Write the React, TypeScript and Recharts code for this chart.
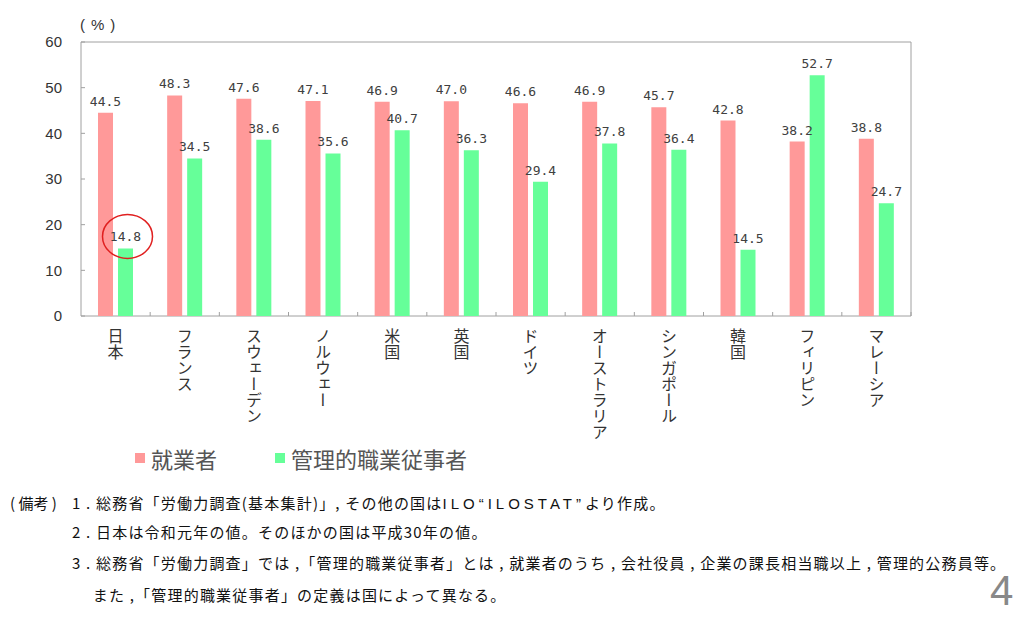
import { Bar, BarChart, LabelList, ReferenceArea, XAxis, YAxis } from 'recharts';

const countries = ['日本', 'フランス', 'スウェーデン', 'ノルウェー', '米国', '英国', 'ドイツ', 'オーストラリア', 'シンガポール', '韓国', 'フィリピン', 'マレーシア'];
const employed = [44.5, 48.3, 47.6, 47.1, 46.9, 47.0, 46.6, 46.9, 45.7, 42.8, 38.2, 38.8];
const managers = [14.8, 34.5, 38.6, 35.6, 40.7, 36.3, 29.4, 37.8, 36.4, 14.5, 52.7, 24.7];
const yTicks = [0, 10, 20, 30, 40, 50, 60];
const seriesNames = ['就業者', '管理的職業従事者'];
const seriesColors = ['#ff9999', '#66ff99'];
const SOURCE = 'ILO“ILOSTAT”';
const notes = [
  '1 . 総務省「労働力調査(基本集計)」, その他の国はILO“ILOSTAT”より作成。',
  '2 . 日本は令和元年の値。そのほかの国は平成30年の値。',
  '3 . 総務省「労働力調査」では ,「管理的職業従事者」とは , 就業者のうち , 会社役員 , 企業の課長相当職以上 , 管理的公務員等。',
  '　 また ,「管理的職業従事者」の定義は国によって異なる。',
];

const data = countries.map((name, i) => ({ name, employed: employed[i], managers: managers[i] }));

const CHART_W = 1024;
const CHART_H = 470;
const Y_AXIS_W = 81;
const X_AXIS_H = 154;
const MARGIN = { top: 42, right: 113, left: 0, bottom: 0 };
const PLOT_W = CHART_W - Y_AXIS_W - MARGIN.left - MARGIN.right;
const STEP = PLOT_W / countries.length;
const TICK_MARGIN_Y = 19;
const TICK_MARGIN_X = 12;
const frameColor = '#a0a0a0';
const labelFont = '"DejaVu Sans Mono", monospace';
const jpFont = '"Noto Sans CJK JP", sans-serif';
const latinFont = '"Liberation Sans", Arial, sans-serif';

function YTick(props: any) {
  const { x, y, payload } = props;
  const axisX = x + TICK_MARGIN_Y;
  return (
    <g>
      <line x1={axisX} x2={axisX + 4} y1={y} y2={y} stroke={frameColor} />
      <text x={x} y={y} dy="0.355em" textAnchor="end" fill="#333" fontSize={15} fontFamily={latinFont}>
        {payload.value}
      </text>
    </g>
  );
}

function CountryTick(props: any) {
  const { x, y, payload } = props;
  const axisY = y - TICK_MARGIN_X;
  return (
    <g>
      <line x1={x + STEP / 2} x2={x + STEP / 2} y1={axisY} y2={axisY - 4} stroke={frameColor} />
      <text x={x} y={y} fill="#333" fontSize={16} fontFamily={jpFont} style={{ writingMode: 'vertical-rl' }}>
        {payload.value}
      </text>
    </g>
  );
}

function ManagerLabel(props: any) {
  const { x, y, width, value, index } = props;
  const cx = x + width / 2;
  const ty = y - 7;
  return (
    <g>
      <text x={cx} y={ty} textAnchor="middle" fill="#404040" fontSize={13} fontFamily={labelFont}>
        {Number(value).toFixed(1)}
      </text>
      {index === 0 && <ellipse cx={cx + 2} cy={ty - 5} rx={25} ry={22} fill="none" stroke="#e02020" strokeWidth={1.5} />}
    </g>
  );
}

function NoteLine({ text }: { text: string }) {
  const parts = text.split(SOURCE);
  if (parts.length < 2) return <>{text}</>;
  return (
    <>
      {parts[0]}
      <span style={{ letterSpacing: 4, fontFamily: latinFont }}>{SOURCE}</span>
      {parts[1]}
    </>
  );
}

export default function App() {
  return (
    <div style={{ position: 'absolute', left: 0, top: 0, width: 1024, height: 618, background: '#fff', fontFamily: jpFont, overflow: 'hidden' }}>
      <div style={{ position: 'absolute', left: 80, top: 16, fontSize: 15, color: '#333', fontFamily: latinFont, letterSpacing: 6 }}>
        (%)
      </div>
      <BarChart width={CHART_W} height={CHART_H} data={data} margin={MARGIN} barSize={15} barGap={5}>
        <ReferenceArea y1={0} y2={60} fill="none" stroke={frameColor} strokeWidth={1} />
        <XAxis
          dataKey="name"
          height={X_AXIS_H}
          axisLine={false}
          tickLine={false}
          tickSize={0}
          tickMargin={TICK_MARGIN_X}
          interval={0}
          tick={<CountryTick />}
        />
        <YAxis
          width={Y_AXIS_W}
          domain={[0, 60]}
          ticks={yTicks}
          axisLine={false}
          tickLine={false}
          tickSize={0}
          tickMargin={TICK_MARGIN_Y}
          tick={<YTick />}
        />
        <Bar dataKey="employed" name={seriesNames[0]} fill={seriesColors[0]} isAnimationActive={false}>
          <LabelList
            dataKey="employed"
            position="top"
            offset={7}
            fill="#404040"
            fontSize={13}
            fontFamily={labelFont}
            formatter={(v: any) => Number(v).toFixed(1)}
          />
        </Bar>
        <Bar dataKey="managers" name={seriesNames[1]} fill={seriesColors[1]} isAnimationActive={false}>
          <LabelList dataKey="managers" content={<ManagerLabel />} />
        </Bar>
      </BarChart>
      <div style={{ position: 'absolute', left: 135, top: 444, display: 'flex', alignItems: 'center' }}>
        {seriesNames.map((name, i) => (
          <div key={name} style={{ display: 'flex', alignItems: 'center', marginRight: 58 }}>
            <span style={{ width: 10, height: 10, background: seriesColors[i], display: 'inline-block', marginRight: 6 }} />
            <span style={{ fontSize: 22, color: '#555', lineHeight: '28px' }}>{name}</span>
          </div>
        ))}
      </div>
      <div style={{ position: 'absolute', left: 10, top: 492, fontSize: 15, color: '#111', lineHeight: '22px' }}>( 備考 )</div>
      {notes.map((line, i) => (
        <div
          key={i}
          style={{
            position: 'absolute',
            left: 72,
            top: 492 + [0, 29, 60, 92][i],
            fontSize: 15,
            letterSpacing: 1.2,
            color: '#111',
            lineHeight: '22px',
            whiteSpace: 'pre',
          }}
        >
          <NoteLine text={line} />
        </div>
      ))}
      <div style={{ position: 'absolute', left: 990, top: 570, fontSize: 42, lineHeight: '42px', color: '#888', fontFamily: latinFont }}>4</div>
    </div>
  );
}
